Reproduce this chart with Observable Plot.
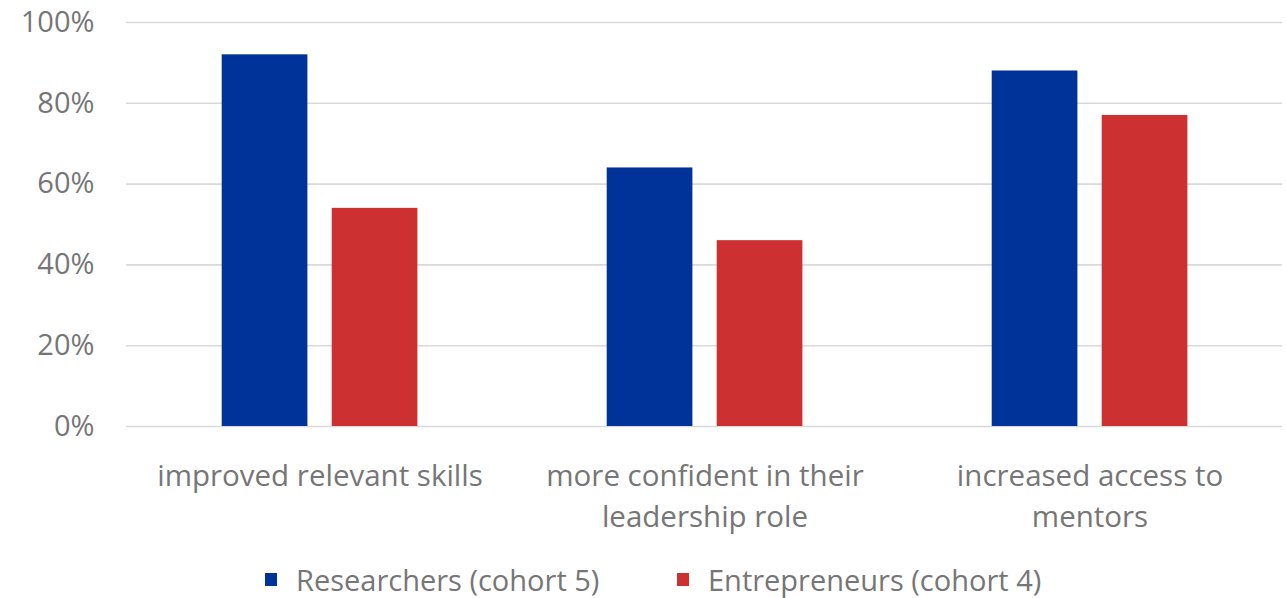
<!DOCTYPE html>
<html>
<head>
<meta charset="utf-8">
<script src="https://cdn.jsdelivr.net/npm/d3@7"></script>
<script src="https://cdn.jsdelivr.net/npm/@observablehq/plot@0.6"></script>
<style>
  html, body { margin: 0; padding: 0; background: #fff; }
  body { width: 1286px; height: 598px; overflow: hidden; font-family: "Open Sans", sans-serif; position: relative; }
  #legend { font-size: 29px; color: #767676; }
  .item { display: flex; align-items: center; position: absolute; white-space: nowrap; }
  .sw { width: 12px; height: 13px; display: inline-block; margin-right: 19px; }
</style>
</head>
<body>
<div id="chart"></div>
<div id="legend"></div>
<script>
const categories = ["improved relevant skills", "more confident in their leadership role", "increased access to mentors"];
const categoryLabels = ["improved relevant skills", "more confident in their\nleadership role", "increased access to\nmentors"];
const series = ["Researchers (cohort 5)", "Entrepreneurs (cohort 4)"];
const researchers = [0.92, 0.64, 0.88];
const entrepreneurs = [0.54, 0.46, 0.77];
const colors = ["#003399", "#CC3030"];
const yTicks = [0, 0.2, 0.4, 0.6, 0.8, 1.0];

const dataR = categories.map((c, i) => ({category: c, series: series[0], value: researchers[i]}));
const dataE = categories.map((c, i) => ({category: c, series: series[1], value: entrepreneurs[i]}));

const labelOf = new Map(categories.map((c, i) => [c, categoryLabels[i]]));

const chart = Plot.plot({
  width: 1286,
  height: 550,
  marginLeft: 126,
  marginRight: 4,
  marginTop: 22,
  marginBottom: 124,
  style: {fontFamily: "'Open Sans', sans-serif", fontSize: "29px", color: "#767676", background: "#fff"},
  x: {domain: categories, padding: 0, label: null},
  y: {domain: [0, 1], label: null},
  color: {domain: series, range: colors},
  marks: [
    Plot.gridY(yTicks, {stroke: "#d9d9d9", strokeOpacity: 1, strokeWidth: 1.6}),
    Plot.axisY(yTicks, {tickSize: 0, tickPadding: 32, tickFormat: d3.format(".0%"), fontSize: 29, fill: "#767676", label: null}),
    Plot.barY(dataR, {x: "category", y: "value", fill: "series", insetLeft: 94.7, insetRight: 204.6}),
    Plot.barY(dataE, {x: "category", y: "value", fill: "series", insetLeft: 204.7, insetRight: 94.6}),
    Plot.axisX({anchor: "bottom", tickSize: 0, tickPadding: 30, tickFormat: d => labelOf.get(d), fontSize: 29.5, fill: "#767676", lineHeight: 1.4, lineWidth: Infinity, textOverflow: null, label: null})
  ]
});
document.getElementById("chart").appendChild(chart);

const legend = document.getElementById("legend");
const positions = [265, 677];
series.forEach((s, i) => {
  const item = document.createElement("div");
  item.className = "item";
  item.style.left = positions[i] + "px";
  item.style.top = "560px";
  const sw = document.createElement("span");
  sw.className = "sw";
  sw.style.background = colors[i];
  const t = document.createElement("span");
  t.textContent = s;
  item.appendChild(sw);
  item.appendChild(t);
  legend.appendChild(item);
});
</script>
</body>
</html>
